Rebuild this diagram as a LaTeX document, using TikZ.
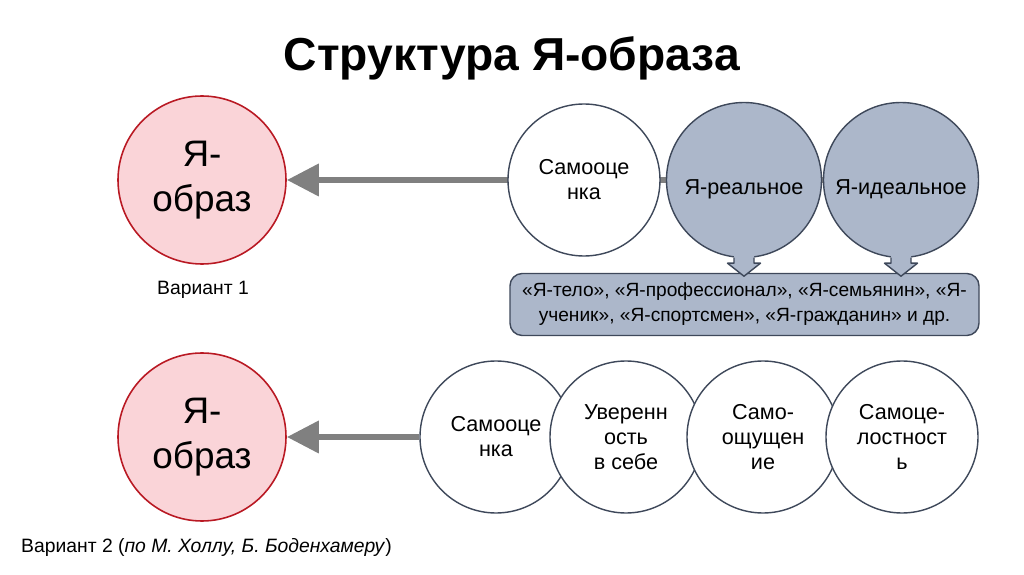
\documentclass[tikz,border=0pt]{standalone}
\usepackage{fontspec}
\setmainfont{Liberation Sans}
\definecolor{selfred}{RGB}{185,25,35}
\definecolor{selfpink}{RGB}{250,212,216}
\definecolor{slate}{RGB}{62,72,90}
\definecolor{slatefill}{RGB}{172,183,202}
\definecolor{arrowgray}{RGB}{128,128,128}
\usetikzlibrary{arrows.meta,positioning,calc,backgrounds}

\begin{document}
\begin{tikzpicture}[
  selfcircle/.style={circle, draw=selfred, fill=selfpink, line width=0.9pt, minimum size=3.36cm, inner sep=0pt, align=center, font=\fontsize{21}{25.5}\selectfont},
  partcircle/.style={circle, draw=slate, fill=white, line width=0.8pt, minimum size=3.04cm, inner sep=0pt, align=center, font=\fontsize{12.3}{14.2}\selectfont},
  selfpart/.style={partcircle, fill=slatefill, minimum size=3.1cm, text height=0.67cm},
  variant/.style={font=\fontsize{11}{13}\selectfont},
  grayarrow/.style={-{Triangle[length=0.64cm, width=0.62cm]}, arrowgray, line width=3.8pt}
]
  \useasboundingbox (0,0) rectangle (20.48,11.48);
  \node[font=\fontsize{26.3}{30}\selectfont\bfseries] (title) at (10.24,10.32) {Структура Я-образа};

  % Variant 1
  \node[selfcircle] (obrazA) at (4.04,7.88) {Я-\\образ};
  \node[variant] (varA) at (4.06,5.68) {Вариант 1};

  \node[partcircle] (samA) at (11.68,7.88) {Самооце\\нка};
  \node[selfpart] (realA) at (14.88,7.88) {Я-реальное};
  \node[selfpart] (idealA) at (18.02,7.88) {Я-идеальное};

  \begin{scope}[on background layer]
    \draw[grayarrow] (idealA.center) -- (obrazA.east);
  \end{scope}

  \node[draw=slate, fill=slatefill, line width=0.8pt, rounded corners=7pt, minimum width=9.38cm, minimum height=1.24cm, inner sep=0pt, align=center, font=\fontsize{10.9}{14.2}\selectfont] (roles) at (14.89,5.39) {«Я-тело», «Я-профессионал», «Я-семьянин», «Я-\\ученик», «Я-спортсмен», «Я-гражданин» и др.};

  \foreach \n in {realA,idealA} {
    \fill[slatefill] ($(\n.south)+(-0.2,0.08)$) -- ($(\n.south)+(-0.2,-0.1)$) -- ($(\n.south)+(-0.33,-0.1)$) -- ($(\n.south)+(0,-0.36)$) -- ($(\n.south)+(0.33,-0.1)$) -- ($(\n.south)+(0.2,-0.1)$) -- ($(\n.south)+(0.2,0.08)$) -- cycle;
    \draw[slate, line width=0.8pt, line join=round] ($(\n.south)+(-0.2,0.013)$) -- ($(\n.south)+(-0.2,-0.1)$) -- ($(\n.south)+(-0.33,-0.1)$) -- ($(\n.south)+(0,-0.36)$) -- ($(\n.south)+(0.33,-0.1)$) -- ($(\n.south)+(0.2,-0.1)$) -- ($(\n.south)+(0.2,0.013)$);
  }

  % Variant 2
  \node[selfcircle] (obrazB) at (4.04,2.74) {Я-\\образ};
  \node[variant, anchor=west] (varB) at (0.3,0.54) {Вариант 2 (\textit{по М. Холлу, Б. Боденхамеру})};

  \node[partcircle] (samB) at (9.92,2.74) {Самооце\\нка};
  \node[partcircle] (confB) at (12.52,2.74) {Уверенн\\ость\\в себе};
  \node[partcircle] (feelB) at (15.26,2.74) {Само-\\ощущен\\ие};
  \node[partcircle] (wholeB) at (18.04,2.74) {Самоце-\\лостност\\ь};

  \draw[grayarrow] (samB) -- (obrazB);
\end{tikzpicture}
\end{document}
